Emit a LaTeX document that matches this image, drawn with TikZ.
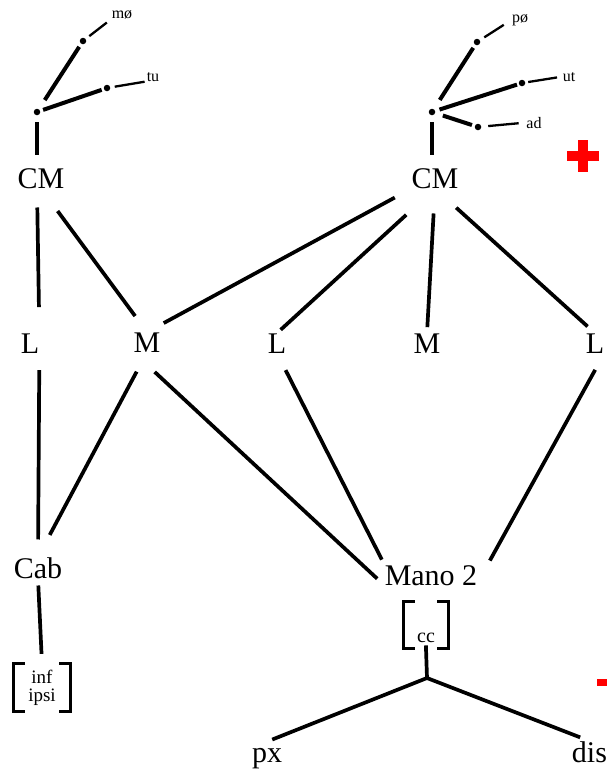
\documentclass[tikz,border=0pt]{standalone}
\usepackage{fontspec}
\setmainfont{Liberation Serif}
\usepackage{tikz}

\begin{document}
\begin{tikzpicture}[x=1pt,y=-1pt]
\useasboundingbox (0,0) rectangle (607,769);

\begin{scope}[every node/.style={inner sep=0pt,anchor=base,font=\fontsize{30}{36}\selectfont}]
    \node (cmL) at (41,188) {CM};
    \node (cmR) at (435,188) {CM};
    \node (l1) at (30,353) {L};
    \node (m1) at (147,352) {M};
    \node (l2) at (277,353) {L};
    \node (m2) at (427,353) {M};
    \node (l3) at (595,353) {L};
    \node (cab) at (38,578) {Cab};
    \node (mano) at (431,585) {Mano 2};
    \node (px) at (267,762) {px};
    \node (dis) at (589.5,762) {dis};
\end{scope}

\begin{scope}[every node/.style={inner sep=0pt,anchor=base,font=\fontsize{16}{18}\selectfont}]
    \node (mo) at (122,18) {mø};
    \node (tu) at (153,81) {tu};
    \node (po) at (520,22) {pø};
    \node (ut) at (569,81) {ut};
    \node (ad) at (534,128) {ad};
\end{scope}

\begin{scope}[every node/.style={circle,fill,inner sep=0pt,minimum size=6.5pt}]
    \node (rootL) at (37,112) {};
    \node (aL) at (83,41) {};
    \node (bL) at (107,88) {};
    \node (rootR) at (432,112) {};
    \node (aR) at (477,42) {};
    \node (bR) at (522,83) {};
    \node (cR) at (478,127) {};
\end{scope}

% feature brackets
\node[align=center,font=\fontsize{19}{18}\selectfont,inner xsep=14.3pt,inner ysep=5.75pt] (infipsi) at (42,687.5) {inf\\ipsi};
\node[anchor=base,font=\fontsize{20}{24}\selectfont,inner xsep=13.35pt,inner ysep=0pt,
      text height=40.25pt,text depth=6.25pt] (cc) at (426,642) {cc};
\coordinate (fork) at (427,678);

\begin{scope}[line width=3.3pt]
    \draw ([xshift=11pt]infipsi.north west) -- (infipsi.north west) -- (infipsi.south west) -- ([xshift=11pt]infipsi.south west);
    \draw ([xshift=-11pt]infipsi.north east) -- (infipsi.north east) -- (infipsi.south east) -- ([xshift=-11pt]infipsi.south east);
    \draw ([xshift=11pt]cc.north west) -- (cc.north west) -- (cc.south west) -- ([xshift=11pt]cc.south west);
    \draw ([xshift=-11pt]cc.north east) -- (cc.north east) -- (cc.south east) -- ([xshift=-11pt]cc.south east);
\end{scope}

% feature trees
\begin{scope}[every edge/.style={draw,line width=4pt}]
    \path (rootL) edge[shorten <=10.8pt,shorten >=3.5pt] (aL);
    \path (rootL) edge[shorten <=3pt,shorten >=2.2pt] (bL);
    \path (rootL) edge[shorten <=6.75pt,shorten >=12.7pt] (rootL |- cmL.north);
    \path (rootR) edge[shorten <=10.9pt,shorten >=3.5pt] (aR);
    \path (rootR) edge[shorten <=4.4pt,shorten >=1.8pt] (bR);
    \path (rootR) edge[shorten <=8pt,shorten >=2.9pt] (cR);
    \path (rootR) edge[shorten <=6.75pt,shorten >=12.7pt] (rootR |- cmR.north);
\end{scope}

\begin{scope}[every edge/.style={draw,line width=2.3pt}]
    \path (aL) edge[shorten <=4.5pt,shorten >=6pt] (mo.south west);
    \path (bL) edge[shorten <=4.4pt,shorten >=2pt] (tu.south west);
    \path (aR) edge[shorten <=5.2pt,shorten >=9.5pt] (po.west);
    \path (bR) edge[shorten <=2.8pt,shorten >=5.6pt] (ut.west);
    \path (cR) edge[shorten <=6.8pt,shorten >=7.6pt] (ad.west);
\end{scope}

% main tree
\begin{scope}[every edge/.style={draw,line width=3.7pt}]
    \path (rootL |- cmL.south) edge[shorten <=19pt,shorten >=26pt] (l1.north east);
    \path (cmL.south) edge[shorten <=28pt,shorten >=20pt] (m1.north);
    \path (m1.north) edge[shorten <=19pt,shorten >=19pt] (cmR.south west);
    \path (cmR.south) edge[shorten <=39pt,shorten >=5pt] (l2.north);
    \path (cmR.south) edge[shorten <=25pt,shorten >=6pt] (m2.north);
    \path (cmR.south) edge[shorten <=28.6pt,shorten >=10pt] (l3.north);
    \path (l1.south east) edge[shorten <=17pt,shorten >=17.5pt] (cab.north);
    \path (m1.south) edge[shorten <=22pt,shorten >=25pt] (cab.north);
    \path (m1.south west) edge[shorten <=29pt,shorten >=10pt] (mano.south west);
    \path (l2.south) edge[shorten <=19pt,shorten >=6pt] (mano.north west);
    \path (l3.south east) edge[shorten <=19pt,shorten >=5pt] ([xshift=10pt]mano.north east);
    \path (cab.south) edge[shorten <=7pt,shorten >=10pt] (infipsi.north);
    \path (cc.south) edge[shorten <=-3pt] (fork);
    \path (fork) edge[shorten >=22pt] (px.north west);
    \path (fork) edge[shorten >=10pt] (dis.north);
\end{scope}

% plus / minus
\fill[red] (567,151) rectangle (599,161);
\fill[red] (578,140) rectangle (588,172);
\fill[red] (597,679) rectangle (607,686);
\end{tikzpicture}
\end{document}
